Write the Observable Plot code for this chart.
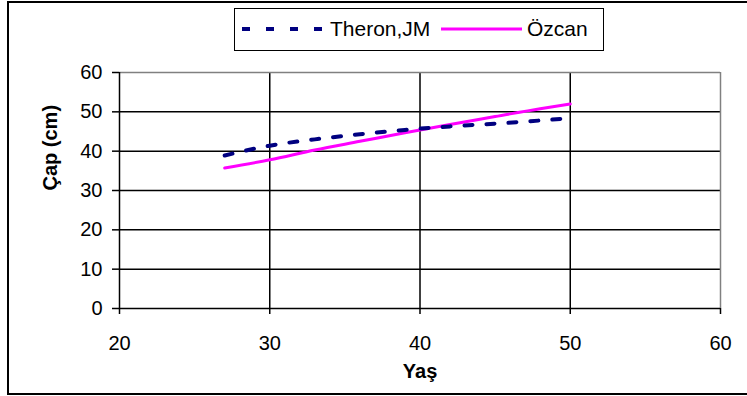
<!DOCTYPE html>
<html>
<head>
<meta charset="utf-8">
<script src="https://cdn.jsdelivr.net/npm/d3@7"></script>
<script src="https://cdn.jsdelivr.net/npm/@observablehq/plot@0.6"></script>
<style>
  html, body { margin: 0; padding: 0; background: #fff; }
  #wrap { position: relative; width: 747px; height: 396px; overflow: hidden; font-family: "Liberation Sans", Arial, sans-serif; }
  #frame { position: absolute; left: 7px; top: 1px; width: 800px; height: 390px; border-top: 2px solid #000; border-left: 2px solid #000; border-bottom: 2px solid #000; }
  #legend { position: absolute; left: 234px; top: 8px; width: 368px; height: 41px; border: 1.5px solid #000; background: #fff; }
  #legend svg { position: absolute; left: 0; top: 0; }
  #chart { position: absolute; left: 0; top: 0; }
</style>
</head>
<body>
<div id="wrap">
  <div id="frame"></div>
  <div id="chart"></div>
  <div id="legend"></div>
</div>
<script>
// Age (years) and diameter (cm) for the two models
const theronAge = [27, 30, 33, 36, 39, 42, 45, 48, 50];
const theronCap = [38.9, 41.4, 43.0, 44.3, 45.4, 46.3, 47.0, 47.8, 48.4];
const ozcanAge = [27, 30, 33, 36, 39, 42, 45, 48, 50];
const ozcanCap = [35.7, 37.8, 40.3, 42.5, 44.7, 46.8, 48.8, 50.8, 52.0];

const seriesNames = ["Theron,JM", "Özcan"];
const xTicks = [20, 30, 40, 50, 60];
const yTicks = [0, 10, 20, 30, 40, 50, 60];

const theron = theronAge.map((a, i) => ({age: a, cap: theronCap[i]}));
const ozcan = ozcanAge.map((a, i) => ({age: a, cap: ozcanCap[i]}));

const navy = "#000080";
const pink = "#ff00ff";
const font = "Liberation Sans, Arial, sans-serif";

const chart = Plot.plot({
  width: 747,
  height: 396,
  marginLeft: 119,
  marginRight: 27,
  marginTop: 72,
  marginBottom: 88,
  style: {fontFamily: font, fontSize: "20px", color: "#000", background: "transparent"},
  x: {domain: [20, 60]},
  y: {domain: [0, 60]},
  marks: [
    // grid
    Plot.ruleY(yTicks.filter(d => d > 0 && d < 60), {stroke: "#000", strokeWidth: 1.5}),
    Plot.ruleX(xTicks.filter(d => d > 20 && d < 60), {stroke: "#000", strokeWidth: 1.5}),
    Plot.ruleY([60], {stroke: "#808080", strokeWidth: 1.5}),
    Plot.ruleX([60], {stroke: "#808080", strokeWidth: 1.5}),
    Plot.ruleX([20], {stroke: "#000", strokeWidth: 1.5}),
    Plot.ruleY([0], {stroke: "#000", strokeWidth: 1.5}),
    Plot.axisY({ticks: yTicks, tickSize: 7, tickPadding: 10, fontSize: 20, tickFormat: d => String(d), label: null, strokeWidth: 1.5}),
    Plot.axisX({ticks: xTicks, tickSize: 6, tickPadding: 21, fontSize: 20, tickFormat: d => String(d), label: null, strokeWidth: 1.5}),
    Plot.text(["Çap (cm)"], {frameAnchor: "left", dx: -69, rotate: -90, fontWeight: "bold", fontSize: 20}),
    Plot.text(["Yaş"], {frameAnchor: "bottom", dy: 69, fontWeight: "bold", fontSize: 20}),
    // series
    Plot.line(ozcan, {x: "age", y: "cap", stroke: pink, strokeWidth: 3, curve: "monotone-x"}),
    Plot.line(theron, {x: "age", y: "cap", stroke: navy, strokeWidth: 4, strokeDasharray: "8,14", curve: "monotone-x"})
  ]
});
document.getElementById("chart").appendChild(chart);

// legend
const leg = d3.select("#legend").append("svg").attr("width", 368).attr("height", 41)
  .style("font-family", font).style("font-size", "21px");
leg.append("line").attr("x1", 7).attr("x2", 88).attr("y1", 20).attr("y2", 20)
  .attr("stroke", navy).attr("stroke-width", 4).attr("stroke-dasharray", "8,16");
leg.append("text").attr("x", 95).attr("y", 27).text(seriesNames[0]);
leg.append("line").attr("x1", 206).attr("x2", 287).attr("y1", 20).attr("y2", 20)
  .attr("stroke", pink).attr("stroke-width", 3);
leg.append("text").attr("x", 292).attr("y", 27).text(seriesNames[1]);
</script>
</body>
</html>
